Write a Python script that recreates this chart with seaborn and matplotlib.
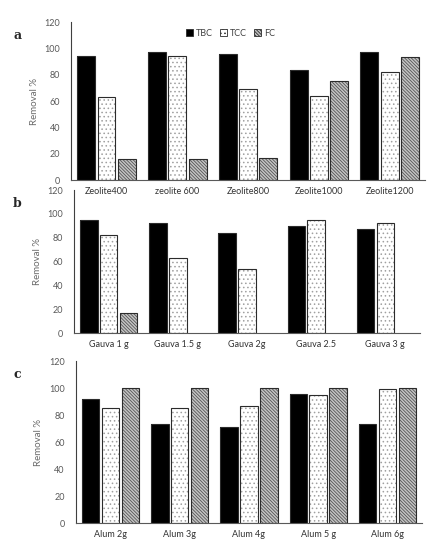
import numpy as np
import pandas as pd
import matplotlib
matplotlib.use("Agg")
import matplotlib.pyplot as plt
import seaborn as sns
from matplotlib.patches import Rectangle
from matplotlib.ticker import FixedLocator

sns.set_style("white")
plt.rcParams['font.family'] = ['Lato', 'DejaVu Sans']
plt.rcParams['hatch.linewidth'] = 0.6

# --- data ---
series = ['TBC', 'TCC', 'FC']

zeolite_labels = ['Zeolite400', 'zeolite 600', 'Zeolite800', 'Zeolite1000', 'Zeolite1200']
zeolite_tbc = [94.3, 97.4, 95.8, 83.7, 97.4]
zeolite_tcc = [62.8, 94.3, 69.3, 64.0, 82.1]
zeolite_fc = [16.3, 15.8, 16.8, 75.0, 93.2]

gauva_labels = ['Gauva 1 g', 'Gauva 1.5 g', 'Gauva 2g', 'Gauva 2.5', 'Gauva 3 g']
gauva_tbc = [94.5, 92.0, 84.1, 90.0, 86.9]
gauva_tcc = [82.1, 63.1, 54.1, 94.5, 92.5]
gauva_fc = [16.8, 0, 0, 0, 0]

alum_labels = ['Alum 2g', 'Alum 3g', 'Alum 4g', 'Alum 5 g', 'Alum 6g']
alum_tbc = [91.9, 73.3, 70.9, 95.5, 73.5]
alum_tcc = [85.2, 85.2, 86.6, 94.5, 99.5]
alum_fc = [100, 100, 100, 100, 100]


def long_df(labels, tbc, tcc, fc):
    rows = []
    for name, vals in zip(series, [tbc, tcc, fc]):
        for lab, v in zip(labels, vals):
            rows.append({'sample': lab, 'series': name, 'removal': v})
    return pd.DataFrame(rows)


panels = [
    ('a', long_df(zeolite_labels, zeolite_tbc, zeolite_tcc, zeolite_fc), zeolite_labels,
     [0.163, 0.6727, 0.812, 0.2873]),
    ('b', long_df(gauva_labels, gauva_tbc, gauva_tcc, gauva_fc), gauva_labels,
     [0.170, 0.3945, 0.793, 0.26]),
    ('c', long_df(alum_labels, alum_tbc, alum_tcc, alum_fc), alum_labels,
     [0.174, 0.049, 0.794, 0.2946]),
]

# face, hatch, hatch colour
styles = {
    'TBC': ('black', None, 'black'),
    'TCC': ('white', '....', '#a0a0a0'),
    'FC': ('#c4c4c4', '\\\\\\\\\\\\\\\\\\\\', '#555555'),
}
edge = '#2b2b2b'

fig = plt.figure(figsize=(4.36, 5.5), dpi=100)

for letter, df, labels, rect in panels:
    ax = fig.add_axes(rect)
    ax.patch.set_alpha(0)
    sns.barplot(data=df, x='sample', y='removal', hue='series', order=labels,
                hue_order=series, width=0.86, gap=0.12, legend=False, ax=ax)
    for cont, name in zip(ax.containers, series):
        face, hatch, hcol = styles[name]
        for p in cont.patches:
            p.set_facecolor(face)
            p.set_edgecolor(hcol)
            p.set_linewidth(0)
            if hatch:
                p.set_hatch(hatch)
            if p.get_height() > 0:
                ax.add_patch(Rectangle(p.get_xy(), p.get_width(), p.get_height(),
                                       fill=False, edgecolor=edge, linewidth=0.8,
                                       zorder=p.get_zorder() + 0.1))
    ax.set_ylim(0, 120)
    ax.set_yticks(range(0, 121, 20))
    ax.set_xlim(-0.5, len(labels) - 0.5)
    ax.set_xlabel('')
    ax.set_ylabel('Removal %', fontsize=7, color='#6a6a6a', labelpad=4)
    ax.tick_params(axis='y', labelsize=6.5, labelcolor='#595959', length=0, pad=8)
    ax.tick_params(axis='x', which='major', labelsize=6.5, labelcolor='#333333',
                   length=0, pad=5)
    ax.xaxis.set_minor_locator(FixedLocator(np.arange(0.5, len(labels) - 1, 1.0)))
    if letter != 'a':
        ax.tick_params(axis='x', which='minor', length=3, width=0.8, color='#595959',
                       direction='out')
    for s in ['top', 'right']:
        ax.spines[s].set_visible(False)
    ax.spines['left'].set_color('#404040')
    ax.spines['bottom'].set_color('#595959')
    ax.spines['left'].set_linewidth(0.8)
    ax.spines['bottom'].set_linewidth(0.8)
    fig.text(0.03, rect[1] + rect[3] - 0.025, letter, fontsize=9, fontweight='bold',
             family='DejaVu Serif', va='center')
    if letter == 'a':
        handles = [Rectangle((0, 0), 1, 1, facecolor=styles[n][0], hatch=styles[n][1],
                             edgecolor=edge, linewidth=0.6) for n in series]
        ax.legend(handles, series, loc='center', bbox_to_anchor=(0.45, 0.93),
                  ncol=3, frameon=False, fontsize=6.5, handlelength=0.8,
                  handleheight=0.8, handletextpad=0.3, columnspacing=0.8,
                  labelcolor='#404040')

fig.savefig('out.png', dpi=100)
